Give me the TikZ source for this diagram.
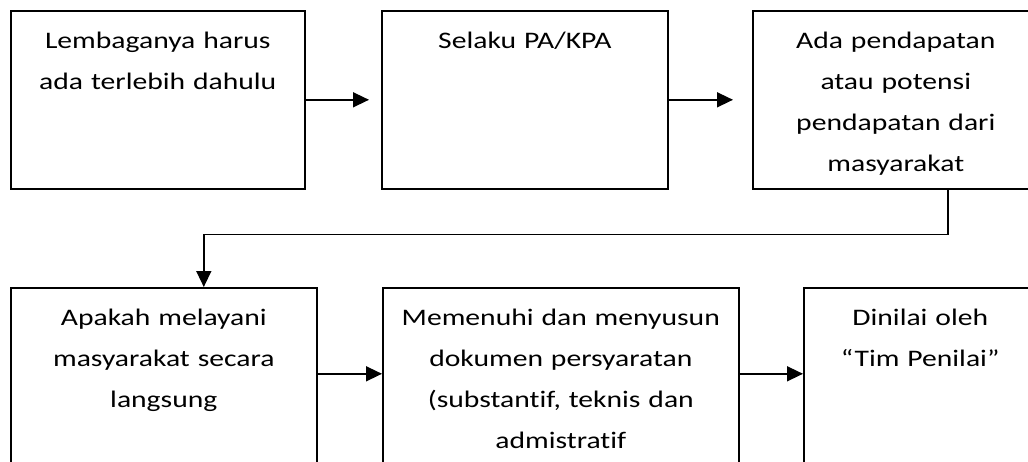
\documentclass[tikz,border=0pt]{standalone}
\usepackage{fontspec}
\setmainfont{Carlito}[FakeStretch=1.25,Ligatures={NoCommon,NoDiscretionary}]
\usetikzlibrary{arrows.meta,positioning,calc}

\begin{document}
\begin{tikzpicture}[x=0.5pt,y=-0.5pt,>={Triangle[length=8pt,width=7.5pt]},
 font=\fontsize{11.85}{20.5}\selectfont,
 box/.style={draw,line width=0.8pt,anchor=north west,align=center,inner sep=0pt,minimum height=89pt,text height=19pt,text depth=70pt},
 flow/.style={->,line width=0.75pt}]
\path[use as bounding box,clip] (0,0) rectangle (1028,461);
\node[box,minimum width=147pt,text width=140pt] (lembaga) at (10,10) {Lembaganya harus\\ada terlebih dahulu};
\node[box,minimum width=143pt,text width=136pt] (pakpa) at (381,10) {Selaku PA/KPA};
\node[box,minimum width=143pt,text width=136pt] (pendapatan) at (752,10) {Ada pendapatan\\atau potensi\\pendapatan dari\\masyarakat};
\node[box,minimum width=153pt,text width=146pt] (layani) at (10,287) {Apakah melayani\\masyarakat secara\\langsung};
\node[box,minimum width=178pt,text width=170pt] (dokumen) at (382,287) {Memenuhi dan menyusun\\dokumen persyaratan\\(substantif, teknis dan\\admistratif};
\node[box,minimum width=116.5pt,text width=110pt] (penilai) at (803,287) {Dinilai oleh\\“Tim Penilai”};
\draw[flow,shorten >=6pt] (lembaga) -- (pakpa);
\draw[flow,shorten >=9.5pt] (pakpa) -- (pendapatan);
\draw[flow] ([xshift=26pt]pendapatan.south) -- ++(0,45) -| ([xshift=20pt]layani.north);
\draw[flow] ([yshift=1.5pt]layani.east) -- ([yshift=1.5pt]dokumen.west);
\draw[flow] ([yshift=1.5pt]dokumen.east) -- ([yshift=1.5pt]penilai.west);
\end{tikzpicture}
\end{document}
